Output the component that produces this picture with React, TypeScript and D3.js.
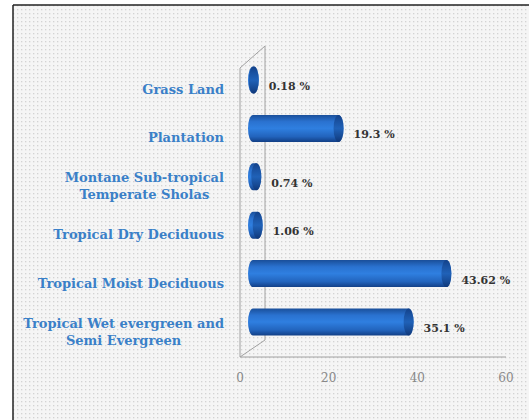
import React from "react";
import * as d3 from "d3";

const categories: string[][] = [
  ["Grass Land"],
  ["Plantation"],
  ["Montane Sub-tropical", "Temperate Sholas"],
  ["Tropical Dry Deciduous"],
  ["Tropical Moist Deciduous"],
  ["Tropical Wet evergreen and", "Semi Evergreen"],
];
const values: number[] = [0.18, 19.3, 0.74, 1.06, 43.62, 35.1];
const valueLabels: string[] = ["0.18 %", "19.3 %", "0.74 %", "1.06 %", "43.62 %", "35.1 %"];
const tickValues: number[] = [0, 20, 40, 60];

const W = 529;
const H = 420;
const labelFont = "bold 13px 'DejaVu Serif'";

function measure(text: string, font: string): number {
  const c = document.createElement("canvas").getContext("2d");
  if (!c) return text.length * 7;
  c.font = font;
  return c.measureText(text).width;
}

export default function App() {
  const keys = categories.map((c) => c.join(" "));
  const x = d3.scaleLinear().domain([0, 60]).range([240, 506]);
  const y = d3.scalePoint<string>().domain(keys).range([80, 322]);
  const depth = 13; // bars sit inside the 3D box
  const bx = (v: number) => x(v) + depth;
  const barH = 27;
  const rx = 5;
  const floorY = 357;
  const backX = 265;

  return (
    <svg
      width={W}
      height={H}
      style={{ position: "absolute", left: 0, top: 0, background: "#fff" }}
    >
      <defs>
        <pattern id="dots" width="4" height="4" patternUnits="userSpaceOnUse">
          <rect width="4" height="4" fill="#f5f5f5" />
          <rect x="1" y="1" width="1.3" height="1.3" fill="#d3d3d3" />
        </pattern>
        <linearGradient id="cyl" x1="0" y1="0" x2="0" y2="1">
          <stop offset="0" stopColor="#1a4f9a" />
          <stop offset="0.25" stopColor="#2a72d0" />
          <stop offset="0.5" stopColor="#2f7fe0" />
          <stop offset="0.8" stopColor="#2264bd" />
          <stop offset="1" stopColor="#123f86" />
        </linearGradient>
        <linearGradient id="cap" x1="0" y1="0" x2="0" y2="1">
          <stop offset="0" stopColor="#123f86" />
          <stop offset="0.5" stopColor="#1d5cb0" />
          <stop offset="1" stopColor="#0f3676" />
        </linearGradient>
      </defs>
      <rect x={13} y={5} width={W - 13} height={H - 5} fill="url(#dots)" />
      <line x1={13} y1={5} x2={W} y2={5} stroke="#222" strokeWidth={1.5} />
      <line x1={13} y1={5} x2={13} y2={H} stroke="#222" strokeWidth={1.5} />

      {/* 3D box lines */}
      <g stroke="#a0a0a0" strokeWidth={1} fill="none">
        <line x1={backX} y1={46} x2={backX} y2={340} />
        <line x1={240} y1={68} x2={backX} y2={46} />
        <line x1={240} y1={68} x2={240} y2={floorY} />
        <line x1={240} y1={floorY} x2={backX} y2={340} />
        <line x1={240} y1={floorY} x2={x(60)} y2={floorY} />
      </g>

      {/* bars */}
      {values.map((v, i) => {
        const cy = y(keys[i]) as number;
        const x0 = bx(0);
        const x1 = bx(v);
        const t = cy - barH / 2;
        const b = cy + barH / 2;
        const ry = barH / 2;
        const d = `M${x0},${t} L${x1},${t} A${rx},${ry} 0 0 1 ${x1},${b} L${x0},${b} A${rx},${ry} 0 0 1 ${x0},${t} Z`;
        return (
          <g key={i}>
            <path d={d} fill="url(#cyl)" />
            <ellipse cx={x1} cy={cy} rx={rx} ry={ry} fill="url(#cap)" opacity={0.85} />
          </g>
        );
      })}

      {/* value labels */}
      {values.map((v, i) => {
        const cy = y(keys[i]) as number;
        return (
          <text
            key={i}
            x={bx(v) + rx + 10}
            y={cy + 7}
            fontFamily="'DejaVu Serif', serif"
            fontWeight="bold"
            fontSize={11}
            fill="#333"
            dominantBaseline="middle"
          >
            {valueLabels[i]}
          </text>
        );
      })}

      {/* category labels */}
      {categories.map((lines, i) => {
        const cy = (y(keys[i]) as number) + 10;
        const maxW = Math.max(...lines.map((l) => measure(l, labelFont)));
        const cx = 224 - maxW / 2;
        const lh = 17;
        return (
          <text
            key={i}
            fontFamily="'DejaVu Serif', serif"
            fontWeight="bold"
            fontSize={13}
            fill="#3a80c8"
            textAnchor="middle"
            dominantBaseline="middle"
          >
            {lines.map((l, j) => (
              <tspan key={j} x={cx} y={cy + (j - (lines.length - 1) / 2) * lh}>
                {l}
              </tspan>
            ))}
          </text>
        );
      })}

      {/* x tick labels */}
      {tickValues.map((t) => (
        <text
          key={t}
          x={x(t)}
          y={378}
          textAnchor="middle"
          dominantBaseline="middle"
          fontFamily="'DejaVu Serif', serif"
          fontSize={12}
          fill="#888"
        >
          {t}
        </text>
      ))}
    </svg>
  );
}
